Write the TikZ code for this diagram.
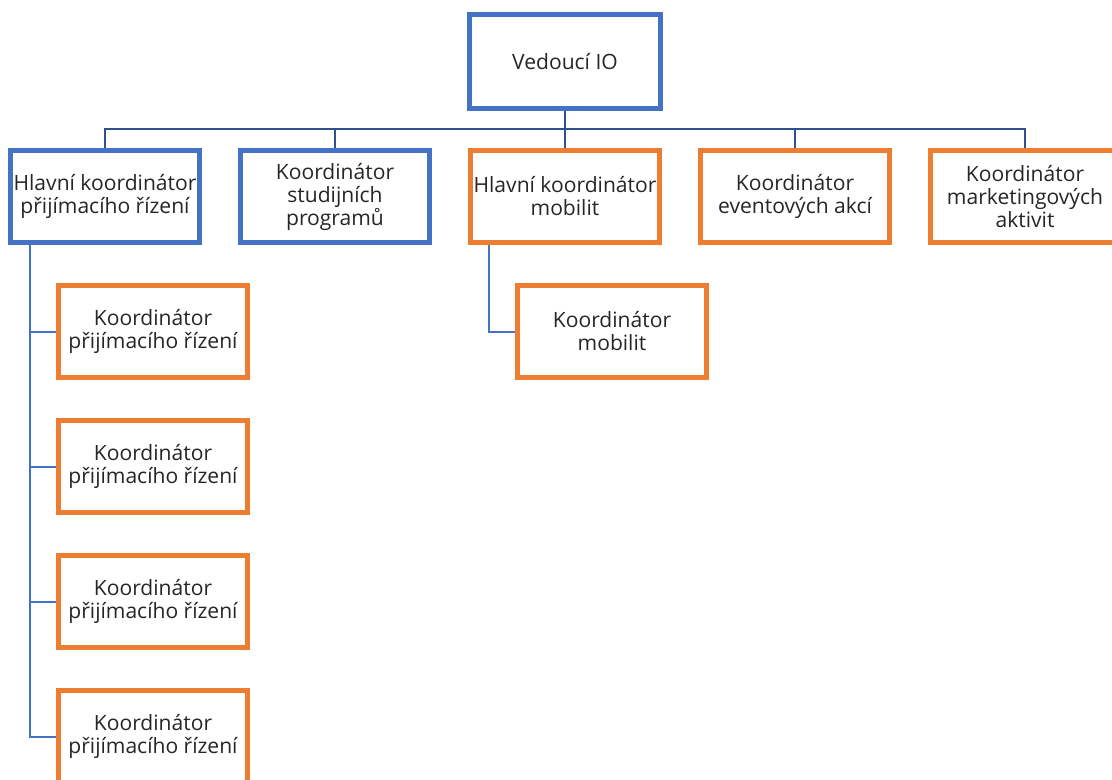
\documentclass[tikz,border=0pt]{standalone}
\usepackage{fontspec}
\setmainfont{Open Sans}
\usepackage{tikz}
\definecolor{ioblue}{HTML}{4472C4}
\definecolor{iodark}{HTML}{2F528F}
\definecolor{ioorange}{HTML}{ED7D31}
\definecolor{iotext}{HTML}{262626}
\tikzset{
  orgbox/.style={draw, line width=3.75pt, fill=white, rectangle, align=center,
    minimum width=141.75pt, minimum height=69pt, inner sep=0pt,
    text=iotext, font=\fontsize{15.8}{17.25}\selectfont},
  bluebox/.style={orgbox, draw=ioblue},
  orangebox/.style={orgbox, draw=ioorange},
  link/.style={line width=1.5pt, draw=ioblue},
  buslink/.style={line width=1.5pt, draw=iodark}
}
\begin{document}
\begin{tikzpicture}[x=0.75pt,y=-0.75pt]
                \useasboundingbox (0,0) rectangle (1112,780);
                \clip (0,0) rectangle (1112,780);
                \coordinate (bus) at (565,129);
                \coordinate (spine) at (30,0);
                \coordinate (mspine) at (489,0);
                \node [bluebox, minimum width=143.25pt, minimum height=70.5pt] (lead) at (565,61.5) {Vedoucí IO};
                \node [bluebox] (hpr) at (105,196.5) {Hlavní koordinátor\\přijímacího řízení};
                \node [bluebox] (ksp) at (335,196.5) {Koordinátor\\studijních\\programů};
                \node [orangebox] (hkm) at (565,196.5) {Hlavní koordinátor\\mobilit};
                \node [orangebox] (kea) at (795,196.5) {Koordinátor\\eventových akcí};
                \node [orangebox] (kma) at (1025,196.5) {Koordinátor\\marketingových\\aktivit};
                \foreach \i in {1,...,4}
                    \node [orangebox] (kpr\i) at (153,196.5+135*\i) {Koordinátor\\přijímacího řízení};
                \node [orangebox] (kmo) at (612,331.5) {Koordinátor\\mobilit};
                % connectors
                \foreach \n in {hpr,ksp,hkm,kea,kma}
                    \draw [buslink] (lead.south) |- (bus -| \n.north) -- (\n.north);
                \foreach \i in {1,...,4}
                    \draw [link] (spine |- hpr.south) |- (kpr\i.west);
                \draw [link] (mspine |- hkm.south) |- (kmo.west);
            \end{tikzpicture}
\end{document}
